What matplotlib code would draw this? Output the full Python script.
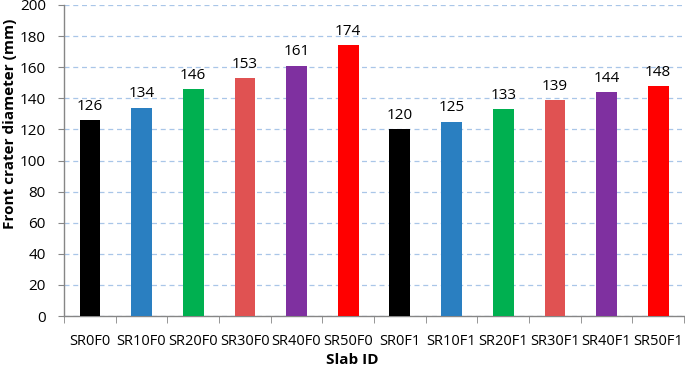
import matplotlib
matplotlib.use("Agg")
import matplotlib.pyplot as plt
import numpy as np

categories = ["SR0F0", "SR10F0", "SR20F0", "SR30F0", "SR40F0", "SR50F0",
              "SR0F1", "SR10F1", "SR20F1", "SR30F1", "SR40F1", "SR50F1"]
values = [126, 134, 146, 153, 161, 174, 120, 125, 133, 139, 144, 148]
colors = ["#000000", "#2a7fc1", "#00b050", "#e05252", "#7f30a0", "#ff0000"] * 2

plt.rcParams['font.family'] = ['Open Sans', 'DejaVu Sans']

W, H = 685, 368
fig = plt.figure(figsize=(6.85, 3.68), dpi=100)
ax = fig.add_axes([64 / W, (H - 316) / H, 620 / W, 311 / H])

x = np.arange(len(categories))
ax.bar(x, values, width=0.4, color=colors, zorder=3)
for xi, v in zip(x, values):
    ax.text(xi, v + 4, str(v), ha='center', va='bottom', fontsize=11, color='black')

ax.set_xlim(-0.5, len(categories) - 0.5)
ax.set_ylim(0, 200)
ax.set_yticks(np.arange(0, 201, 20))
ax.set_xticks(x)
ax.set_xticklabels(categories, fontsize=10.5)
ax.set_xticks(np.arange(-0.5, len(categories), 1), minor=True)
ax.tick_params(axis='x', which='major', length=0, pad=13)
ax.tick_params(axis='x', which='minor', length=5, color='#868686', direction='out')
ax.tick_params(axis='y', length=4, color='#868686', labelsize=11, pad=9)

ax.yaxis.grid(True, linestyle=(0, (4, 3)), color='#a9c6e8', linewidth=0.9, zorder=0)
ax.set_axisbelow(True)
for s in ['top', 'right']:
    ax.spines[s].set_visible(False)
for s in ['left', 'bottom']:
    ax.spines[s].set_color('#868686')
    ax.spines[s].set_linewidth(1.0)

fig.text(352 / W, 1 - 360 / H, "Slab ID", fontsize=11, fontweight='bold',
         ha='center', va='center')
fig.text(10 / W, 1 - 124 / H, "Front crater diameter (mm)", fontsize=11,
         fontweight='bold', rotation=90, ha='center', va='center')

fig.savefig("out.png", dpi=100)
